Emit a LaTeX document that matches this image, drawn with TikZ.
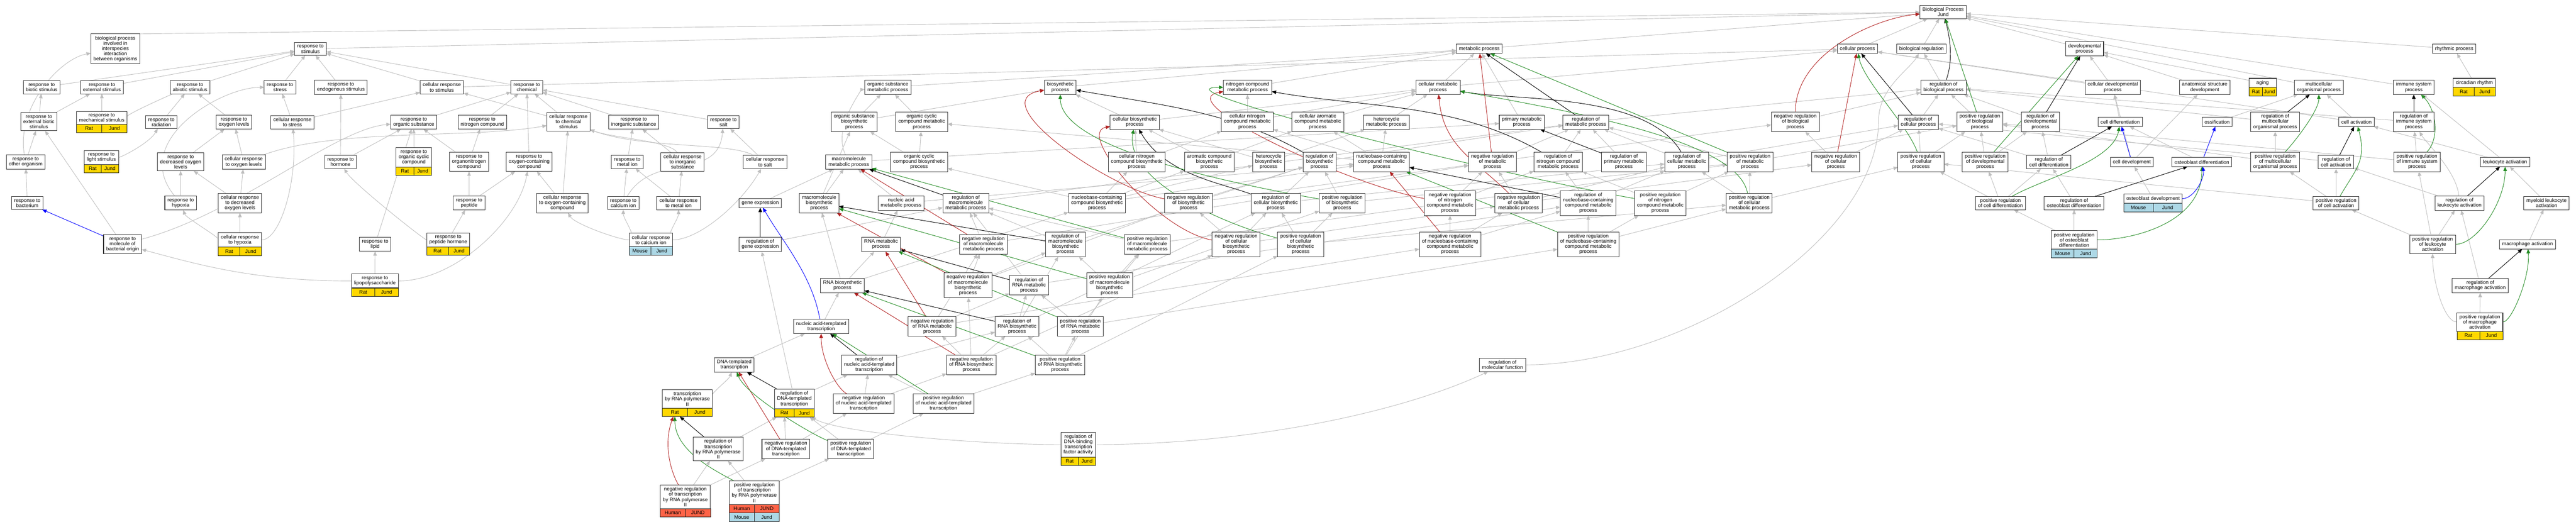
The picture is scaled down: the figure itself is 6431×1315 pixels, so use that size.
\documentclass[tikz,border=0pt]{standalone}
\usepackage{fontspec}
\setmainfont{Liberation Sans}
\usetikzlibrary{arrows.meta, calc, backgrounds}

\definecolor{ratgold}{HTML}{FFD700}
\definecolor{mouseblue}{HTML}{ADD8E6}
\definecolor{humanred}{HTML}{FF6347}
\definecolor{negred}{HTML}{B22222}
\definecolor{posgreen}{HTML}{228B22}
\definecolor{isagray}{HTML}{BEBEBE}

\newcommand{\gofont}{\fontsize{12.6}{13}\selectfont}
% species row under a term: node, row, colour, left, right
\newcommand{\tagrow}[5]{%
  \path let \p1 = (#1.south west), \p2 = (#1.south east) in
    node[tagcell, fill=#3, minimum width={(\x2-\x1)/2}, anchor=north west]
      (#1-#2l) at ($(\p1)+(0,21-21*#2)$) {#4};
  \path let \p1 = (#1.south west), \p2 = (#1.south east) in
    node[tagcell, fill=#3, minimum width={(\x2-\x1)/2}, anchor=north east]
      (#1-#2r) at ($(\p2)+(0,21-21*#2)$) {#5};
}

\begin{document}
\begin{tikzpicture}[x=1pt, y=1pt,
  every node/.style = {font=\gofont},
  term/.style = {shape=rectangle, draw=black!80, line width=1.3pt, fill=white,
    align=center, inner xsep=6.5pt, inner ysep=5.5pt, minimum height=23pt, outer sep=0pt},
  tagcell/.style = {shape=rectangle, draw=black!85, line width=1pt, inner sep=0pt,
    minimum height=21pt, outer sep=0pt},
  isa/.style = {draw=isagray, line width=1.2pt, -{Triangle[length=11pt,width=9pt]}},
  reg/.style = {isa, draw=black},
  negreg/.style = {isa, draw=negred},
  posreg/.style = {isa, draw=posgreen},
  partof/.style = {isa, draw=blue}]
\useasboundingbox (0,0) rectangle (6431,-1315);

% top
\node[term] (root) at (4851,-30) {Biological Process\\Jund};
\node[term] (bpint) at (288,-122) {biological process\\involved in\\interspecies\\interaction\\between organisms};
\node[term] (rstim) at (775,-122) {response to\\stimulus};
\node[term] (met) at (3693,-122) {metabolic process};
\node[term] (cp) at (4637,-122) {cellular process};
\node[term] (breg) at (4797,-122) {biological regulation};
\node[term] (dev) at (5204,-122) {developmental\\process};
\node[term] (rhythm) at (6127,-122) {rhythmic process};

\node[term] (rbiotic) at (104,-218) {response to\\biotic stimulus};
\node[term] (rext) at (254.5,-218) {response to\\external stimulus};
\node[term] (rabiotic) at (474.5,-218) {response to\\abiotic stimulus};
\node[term] (rstress) at (699,-218) {response to\\stress};
\node[term] (rendo) at (851,-218) {response to\\endogenous stimulus};
\node[term] (crstim) at (1103,-218) {cellular response\\to stimulus};
\node[term] (rchem) at (1315,-218) {response to\\chemical};
\node[term] (osmet) at (2216.5,-218) {organic substance\\metabolic process};
\node[term] (bio) at (2647,-218) {biosynthetic\\process};
\node[term] (ncm) at (3114.5,-218) {nitrogen compound\\metabolic process};
\node[term] (cmet) at (3590,-218) {cellular metabolic\\process};
\node[term] (regbp) at (4852,-218) {regulation of\\biological process};
\node[term] (cdev) at (5274.5,-218) {cellular developmental\\process};
\node[term] (anatdev) at (5504,-218) {anatomical structure\\development};
\node[term, minimum width=68pt] (aging) at (5648.5,-207) {aging};
\node[term] (multi) at (5789,-218) {multicellular\\organismal process};
\node[term] (immune) at (6026,-218) {immune system\\process};
\node[term] (circ) at (6177,-207) {circadian rhythm};

\node[term] (rextbio) at (97,-304) {response to\\external biotic\\stimulus};
\node[term] (rmech) at (254,-294) {response to\\mechanical stimulus};
\node[term] (rrad) at (403,-305) {response to\\radiation};
\node[term] (roxy) at (584,-305) {response to\\oxygen levels};
\node[term] (crstress) at (730,-305) {cellular response\\to stress};
\node[term] (rorg) at (1033,-305) {response to\\organic substance};
\node[term] (rnitro) at (1204,-305) {response to\\nitrogen compound};
\node[term] (crchem) at (1419,-304) {cellular response\\to chemical\\stimulus};
\node[term] (rinorg) at (1582,-305) {response to\\inorganic substance};
\node[term] (rsalt) at (1806,-305) {response to\\salt};
\node[term] (osbio) at (2132.5,-304) {organic substance\\biosynthetic\\process};
\node[term] (occmet) at (2301,-304) {organic cyclic\\compound metabolic\\process};
\node[term] (cbio) at (2833,-305) {cellular biosynthetic\\process};
\node[term] (cncm) at (3114,-304) {cellular nitrogen\\compound metabolic\\process};
\node[term] (camet) at (3290,-304) {cellular aromatic\\compound metabolic\\process};
\node[term] (hetmet) at (3461,-305) {heterocycle\\metabolic process};
\node[term] (pmet) at (3799,-305) {primary metabolic\\process};
\node[term] (regmet) at (3959,-305) {regulation of\\metabolic process};
\node[term] (negbp) at (4482,-304) {negative regulation\\of biological\\process};
\node[term] (regcp) at (4789,-305) {regulation of\\cellular process};
\node[term] (posbp) at (4942.5,-304) {positive regulation\\of biological\\process};
\node[term] (regdev) at (5094,-304) {regulation of\\developmental\\process};
\node[term] (celldiff) at (5293,-304.5) {cell differentiation};
\node[term] (ossif) at (5535,-304.5) {ossification};
\node[term] (regmulti) at (5680,-304) {regulation of\\multicellular\\organismal process};
\node[term] (cellact) at (5883,-304.5) {cell activation};
\node[term] (regimmune) at (6026,-304) {regulation of\\immune system\\process};

\node[term] (rother) at (64,-404.5) {response to\\other organism};
\node[term] (rlight) at (253,-393) {response to\\light stimulus};
\node[term] (rdecoxy) at (451,-404) {response to\\decreased oxygen\\levels};
\node[term] (croxy) at (608.5,-404.5) {cellular response\\to oxygen levels};
\node[term] (rhorm) at (850,-404.5) {response to\\hormone};
\node[term] (rocc) at (1033,-393) {response to\\organic cyclic\\compound};
\node[term] (rorgnitro) at (1171,-404) {response to\\organonitrogen\\compound};
\node[term] (roxycomp) at (1321,-404) {response to\\oxygen-containing\\compound};
\node[term] (rmetal) at (1566,-404.5) {response to\\metal ion};
\node[term] (crinorg) at (1704,-404) {cellular response\\to inorganic\\substance};
\node[term] (crsalt) at (1910,-404.5) {cellular response\\to salt};
\node[term] (macmet) at (2119,-404.5) {macromolecule\\metabolic process};
\node[term] (occbio) at (2294.5,-404) {organic cyclic\\compound biosynthetic\\process};
\node[term] (cncbio) at (2838,-404) {cellular nitrogen\\compound biosynthetic\\process};
\node[term] (arobio) at (3019,-404) {aromatic compound\\biosynthetic\\process};
\node[term] (hetbio) at (3167,-404) {heterocycle\\biosynthetic\\process};
\node[term] (regbio) at (3294,-404) {regulation of\\biosynthetic\\process};
\node[term] (ncmet) at (3449,-404) {nucleobase-containing\\compound metabolic\\process};
\node[term] (negmet) at (3726,-404) {negative regulation\\of metabolic\\process};
\node[term] (regncm) at (3890,-404) {regulation of\\nitrogen compound\\metabolic process};
\node[term] (regpmet) at (4054,-404) {regulation of\\primary metabolic\\process};
\node[term] (regcmet) at (4211,-404) {regulation of\\cellular metabolic\\process};
\node[term] (posmet) at (4369,-404) {positive regulation\\of metabolic\\process};
\node[term] (negcp) at (4583,-404) {negative regulation\\of cellular\\process};
\node[term] (poscp) at (4795.5,-404) {positive regulation\\of cellular\\process};
\node[term] (posdev) at (4956,-404) {positive regulation\\of developmental\\process};
\node[term] (regcelldiff) at (5115,-404.5) {regulation of\\cell differentiation};
\node[term] (celldev) at (5322,-404.5) {cell development};
\node[term] (osteo) at (5497,-404.5) {osteoblast differentiation};
\node[term] (posmulti) at (5680,-404) {positive regulation\\of multicellular\\organismal process};
\node[term] (regcellact) at (5832,-404.5) {regulation of\\cell activation};
\node[term] (posimmune) at (6034,-404) {positive regulation\\of immune system\\process};
\node[term] (leukact) at (6254,-404.5) {leukocyte activation};

\node[term] (rbact) at (68,-507) {response to\\bacterium};
\node[term] (rhypox) at (451,-507) {response to\\hypoxia};
\node[term] (crdecoxy) at (599,-507) {cellular response\\to decreased\\oxygen levels};
\node[term] (rpeptide) at (1171,-507) {response to\\peptide};
\node[term] (croxycomp) at (1404,-507) {cellular response\\to oxygen-containing\\compound};
\node[term] (rcalcium) at (1556,-507) {response to\\calcium ion};
\node[term] (crmetal) at (1694,-507) {cellular response\\to metal ion};
\node[term] (geneexp) at (1898,-507) {gene expression};
\node[term] (macbio) at (2045,-507) {macromolecule\\biosynthetic\\process};
\node[term] (namet) at (2249.5,-507) {nucleic acid\\metabolic process};
\node[term] (regmacmet) at (2411,-507) {regulation of\\macromolecule\\metabolic process};
\node[term] (nbbio) at (2738.5,-507) {nucleobase-containing\\compound biosynthetic\\process};
\node[term] (negbio) at (2967,-507) {negative regulation\\of biosynthetic\\process};
\node[term] (regcbio) at (3185,-507) {regulation of\\cellular biosynthetic\\process};
\node[term] (posbio) at (3351,-507) {positive regulation\\of biosynthetic\\process};
\node[term] (negncm) at (3620,-507) {negative regulation\\of nitrogen\\compound metabolic\\process};
\node[term] (negcmet) at (3791,-507) {negative regulation\\of cellular\\metabolic process};
\node[term] (regncmet) at (3965,-507) {regulation of\\nucleobase-containing\\compound metabolic\\process};
\node[term] (posncm) at (4145,-507) {positive regulation\\of nitrogen\\compound metabolic\\process};
\node[term] (poscmet) at (4367,-507) {positive regulation\\of cellular\\metabolic process};
\node[term] (posceldiff) at (4994,-507) {positive regulation\\of cell differentiation};
\node[term] (regosteo) at (5178,-507) {regulation of\\osteoblast differentiation};
\node[term] (osteodev) at (5375,-496) {osteoblast development};
\node[term] (poscellact) at (5832,-507) {positive regulation\\of cell activation};
\node[term] (regleuk) at (6140,-507) {regulation of\\leukocyte activation};
\node[term] (myeloid) at (6357.5,-507) {myeloid leukocyte\\activation};

\node[term] (rmbo) at (306,-610) {response to\\molecule of\\bacterial origin};
\node[term] (crhypox) at (599,-599) {cellular response\\to hypoxia};
\node[term] (rlipid) at (936.5,-610) {response to\\lipid};
\node[term] (rpephorm) at (1119,-599) {response to\\peptide hormone};
\node[term] (crcalcium) at (1625,-599) {cellular response\\to calcium ion};
\node[term] (reggene) at (1898,-610) {regulation of\\gene expression};
\node[term] (rnamet) at (2199.5,-610) {RNA metabolic\\process};
\node[term] (negmacmet) at (2455,-610) {negative regulation\\of macromolecule\\metabolic process};
\node[term] (regmacbio) at (2660,-610) {regulation of\\macromolecule\\biosynthetic\\process};
\node[term] (posmacmet) at (2864,-610) {positive regulation\\of macromolecule\\metabolic process};
\node[term] (negcbio) at (3086,-610) {negative regulation\\of cellular\\biosynthetic\\process};
\node[term] (poscbio) at (3247,-610) {positive regulation\\of cellular\\biosynthetic\\process};
\node[term] (negncmet) at (3620,-610) {negative regulation\\of nucleobase-containing\\compound metabolic\\process};
\node[term] (posncmet) at (3965,-610) {positive regulation\\of nucleobase-containing\\compound metabolic\\process};
\node[term] (posostdiff) at (5178,-599) {positive regulation\\of osteoblast\\differentiation};
\node[term] (posleuk) at (6073,-610) {positive regulation\\of leukocyte\\activation};
\node[term] (macroact) at (6310,-610) {macrophage activation};

\node[term] (rlps) at (936,-701.5) {response to\\lipopolysaccharide};
\node[term] (rnabio) at (2103,-713) {RNA biosynthetic\\process};
\node[term] (negmacbio) at (2416.5,-712) {negative regulation\\of macromolecule\\biosynthetic\\process};
\node[term] (regrnamet) at (2569,-712) {regulation of\\RNA metabolic\\process};
\node[term] (posmacbio) at (2770,-712) {positive regulation\\of macromolecule\\biosynthetic\\process};
\node[term] (regmacro) at (6192,-713) {regulation of\\macrophage activation};
\node[term] (natt) at (2050,-815) {nucleic acid-templated\\transcription};
\node[term] (negrnamet) at (2327,-815) {negative regulation\\of RNA metabolic\\process};
\node[term] (regrnabio) at (2539,-815) {regulation of\\RNA biosynthetic\\process};
\node[term] (posrnamet) at (2697,-815) {positive regulation\\of RNA metabolic\\process};
\node[term] (posmacro) at (6191,-804) {positive regulation\\of macrophage\\activation};
\node[term] (dnatt) at (1833,-911) {DNA-templated\\transcription};
\node[term] (regnatt) at (2170,-911) {regulation of\\nucleic acid-templated\\transcription};
\node[term] (negrnabio) at (2425,-911) {negative regulation\\of RNA biosynthetic\\process};
\node[term] (posrnabio) at (2646.5,-911) {positive regulation\\of RNA biosynthetic\\process};
\node[term] (regmf) at (3751,-911) {regulation of\\molecular function};
\node[term] (txpol2) at (1716,-996) {transcription\\by RNA polymerase\\II};
\node[term] (regdnatt) at (1983,-996) {regulation of\\DNA-templated\\transcription};
\node[term] (negnatt) at (2156,-1007.5) {negative regulation\\of nucleic acid-templated\\transcription};
\node[term] (posnatt) at (2355.5,-1007.5) {positive regulation\\of nucleic acid-templated\\transcription};
\node[term] (regdbtf) at (2692,-1110) {regulation of\\DNA-binding\\transcription\\factor activity};
\node[term] (regtxpol2) at (1793,-1121) {regulation of\\transcription\\by RNA polymerase\\II};
\node[term] (negdnatt) at (1962,-1121) {negative regulation\\of DNA-templated\\transcription};
\node[term] (posdnatt) at (2124,-1121) {positive regulation\\of DNA-templated\\transcription};
\node[term] (negtxpol2) at (1711,-1240.5) {negative regulation\\of transcription\\by RNA polymerase\\II};
\node[term] (postxpol2) at (1883,-1230) {positive regulation\\of transcription\\by RNA polymerase\\II};
\coordinate (mfvia) at (4690,-300);

% species rows
\tagrow{rmech}{1}{ratgold}{Rat}{Jund}
\tagrow{rlight}{1}{ratgold}{Rat}{Jund}
\tagrow{rocc}{1}{ratgold}{Rat}{Jund}
\tagrow{crhypox}{1}{ratgold}{Rat}{Jund}
\tagrow{rpephorm}{1}{ratgold}{Rat}{Jund}
\tagrow{rlps}{1}{ratgold}{Rat}{Jund}
\tagrow{crcalcium}{1}{mouseblue}{Mouse}{Jund}
\tagrow{txpol2}{1}{ratgold}{Rat}{Jund}
\tagrow{regdnatt}{1}{ratgold}{Rat}{Jund}
\tagrow{regdbtf}{1}{ratgold}{Rat}{Jund}
\tagrow{negtxpol2}{1}{humanred}{Human}{JUND}
\tagrow{postxpol2}{1}{humanred}{Human}{JUND}
\tagrow{postxpol2}{2}{mouseblue}{Mouse}{Jund}
\tagrow{aging}{1}{ratgold}{Rat}{Jund}
\tagrow{circ}{1}{ratgold}{Rat}{Jund}
\tagrow{osteodev}{1}{mouseblue}{Mouse}{Jund}
\tagrow{posostdiff}{1}{mouseblue}{Mouse}{Jund}
\tagrow{posmacro}{1}{ratgold}{Rat}{Jund}

\begin{scope}[on background layer]
% is_a
\foreach \src/\dst in {rbiotic/rstim, rext/rstim, rabiotic/rstim, rstress/rstim, rendo/rstim,
  crstim/rstim, rchem/rstim, rextbio/rbiotic, rextbio/rext, rmech/rext, rrad/rabiotic,
  roxy/rabiotic, crstress/rstress, crstress/crstim, rorg/rchem, rother/rextbio, rdecoxy/roxy,
  croxy/roxy, rhorm/rendo, rhorm/rorg, rocc/rorg, rbact/rother, rhypox/rdecoxy,
  crdecoxy/rdecoxy, crdecoxy/croxy, rmbo/rextbio, crhypox/crdecoxy, rlipid/rorg,
  rpephorm/rpeptide, rlps/rlipid, rnitro/rchem, crchem/rchem, crchem/crstim, rinorg/rchem,
  rsalt/rchem, rorgnitro/rnitro, rorgnitro/rorg, roxycomp/rchem, rmetal/rinorg,
  crinorg/rinorg, crsalt/rsalt, rpeptide/rorgnitro, rpeptide/roxycomp, croxycomp/roxycomp,
  croxycomp/crchem, rcalcium/rmetal, crmetal/rmetal, crmetal/crinorg, rstim/root, crstim/cp}
  \draw[isa] (\src) -- (\dst);
\foreach \src/\dst in {geneexp/macmet, macbio/macmet, macbio/osbio, osbio/osmet, osbio/bio,
  osmet/met, bio/met, ncm/met, cmet/met, pmet/met, macmet/pmet, occmet/osmet, cbio/bio, cbio/cmet,
  cncm/ncm, cncm/cmet, occbio/occmet, occbio/osbio, cncbio/cbio, cncbio/cncm, arobio/cbio,
  arobio/camet, hetbio/cbio, hetbio/hetmet, camet/cmet, hetmet/cmet, ncmet/camet,
  ncmet/hetmet, ncmet/occmet, ncmet/cncm, namet/macmet, namet/ncmet, nbbio/occbio,
  nbbio/cncbio, nbbio/arobio, nbbio/hetbio, nbbio/ncmet, rnamet/namet, rnabio/macbio,
  rnabio/rnamet, rnabio/nbbio, natt/rnabio, dnatt/natt, reggene/regmacmet}
  \draw[isa] (\src) -- (\dst);
\foreach \src/\dst in {regmacmet/regmet, negmacmet/regmacmet, negmacmet/negmet,
  posmacmet/regmacmet, posmacmet/posmet, regmacbio/regmacmet, regmacbio/regbio,
  negmacbio/regmacbio, negmacbio/negmacmet, negmacbio/negbio, posmacbio/regmacbio,
  posmacbio/posmacmet, posmacbio/posbio, regbio/regmet, negbio/regbio, negbio/negmet,
  posbio/regbio, posbio/posmet, regcbio/regbio, regcbio/regcmet, negcbio/regcbio,
  negcbio/negbio, negcbio/negcmet, poscbio/regcbio, poscbio/posbio, poscbio/poscmet,
  regncm/regmet, negncm/regncm, negncm/negmet, posncm/regncm, posncm/posmet, regpmet/regmet,
  regcmet/regmet, regcmet/regcp, negcmet/regcmet, negcmet/negmet, negcmet/negcp,
  poscmet/regcmet, poscmet/posmet, poscmet/poscp, regmet/regbp, negmet/regmet, negmet/negbp,
  posmet/regmet, posmet/posbp, regncmet/regncm, regncmet/regcmet, negncmet/regncmet,
  negncmet/negncm, negncmet/negcmet, posncmet/regncmet, posncmet/posncm, posncmet/poscmet,
  regrnamet/regncmet, regrnamet/regmacmet, negrnamet/regrnamet, negrnamet/negncmet,
  negrnamet/negmacmet, posrnamet/regrnamet, posrnamet/posncmet, posrnamet/posmacmet,
  regrnabio/regrnamet, regrnabio/regmacbio, regrnabio/regcbio, negrnabio/negrnamet,
  negrnabio/regrnabio, negrnabio/negmacbio, negrnabio/negcbio, posrnabio/posrnamet,
  posrnabio/regrnabio, posrnabio/posmacbio, posrnabio/poscbio, regnatt/regrnabio,
  negnatt/regnatt, negnatt/negrnabio, posnatt/regnatt, posnatt/posrnabio, regdnatt/regnatt,
  regdnatt/reggene, negdnatt/negnatt, posdnatt/posnatt, negtxpol2/regtxpol2,
  postxpol2/regtxpol2, negdnatt/regdnatt-1l, posdnatt/regdnatt-1r, regtxpol2/regdnatt-1l,
  negtxpol2/negdnatt, postxpol2/posdnatt}
  \draw[isa] (\src) -- (\dst);
\foreach \src/\dst in {met/root, cp/root, breg/root, dev/root, rhythm/root, multi/root,
  immune/root, regbp/breg, negbp/regbp, posbp/regbp, regcp/regbp, negcp/regcp, negcp/negbp,
  poscp/regcp, poscp/posbp, cmet/cp, cdev/dev, cdev/cp, regdev/regbp, posdev/regdev,
  posdev/posbp, celldiff/cdev, regcelldiff/regdev, regcelldiff/regcp, posceldiff/regcelldiff,
  posceldiff/posdev, posceldiff/poscp, celldev/cdev, celldev/anatdev, anatdev/dev, aging/dev,
  osteo/celldiff, osteodev/celldev, regosteo/regcelldiff, posostdiff/regosteo,
  posostdiff/posceldiff, ossif/multi, circ/rhythm, regmulti/regbp, posmulti/regmulti,
  posmulti/posbp, cellact/cp, cellact/multi, regimmune/regbp, posimmune/regimmune,
  posimmune/posbp, regcellact/regcp, poscellact/regcellact, poscellact/poscp,
  poscellact/posmulti, leukact/cellact, leukact/immune, regleuk/regcellact, posleuk/regleuk,
  posleuk/poscellact, posleuk/posimmune, myeloid/leukact, macroact/myeloid, regmacro/regleuk,
  posmacro/regmacro}
  \draw[isa] (\src) -- (\dst);
\draw[isa] (bpint.north east) -- (root);
\draw[isa] (rother) .. controls +(100:140) and +(190:140) .. (bpint);
\draw[isa] (rmech) .. controls +(0:40) and +(200:40) .. (rabiotic);
\draw[isa] (rlight) .. controls +(0:50) and +(-120:60) .. (rrad);
\draw[isa] (rhypox) .. controls +(130:200) and +(180:150) .. (rstress);
\draw[isa] (crhypox) .. controls +(180:40) and +(-70:40) .. (rhypox);
\draw[isa] (crhypox) .. controls +(0:100) and +(-85:150) .. (crstress);
\draw[isa] (croxy) .. controls +(20:250) and +(190:250) .. (crchem);
\draw[isa] (rmbo) .. controls +(15:300) and +(185:200) .. (rorg);
\draw[isa] (rlps) .. controls +(180:300) and +(-15:200) .. (rmbo);
\draw[isa] (rlps) .. controls +(0:200) and +(-100:150) .. (roxycomp);
\draw[isa] (rpephorm) .. controls +(180:60) and +(-60:60) .. (rhorm);
\draw[isa] (crinorg) .. controls +(120:60) and +(-20:120) .. (crchem);
\draw[isa] (crsalt) .. controls +(150:100) and +(-20:200) .. (crchem);
\draw[isa] (rcalcium) .. controls +(60:150) and +(-95:150) .. (rsalt);
\draw[isa] (crcalcium) .. controls +(180:80) and +(-60:60) .. (croxycomp);
\draw[isa] (crcalcium) .. controls +(180:30) and +(-90:40) .. (rcalcium);
\draw[isa] (crcalcium) .. controls +(0:30) and +(-90:40) .. (crmetal);
\draw[isa] (crcalcium) .. controls +(0:120) and +(-120:120) .. (crsalt);
\draw[isa] (macmet) .. controls +(115:100) and +(185:60) .. (osmet);
\draw[isa] (txpol2) .. controls +(0:40) and +(-110:40) .. (dnatt);
\draw[isa] (regdbtf) .. controls +(0:400) and +(-155:300) .. (regmf);
\draw[isa] (regdbtf) .. controls +(180:250) and +(-30:100) .. (regdnatt-1r);
\draw[isa] (regmf) .. controls +(0:450) and +(-90:300) .. (mfvia) .. controls +(90:80) and +(-120:60) .. (breg);
\draw[isa] (regleuk) .. controls +(95:80) and +(-60:60) .. (regimmune);
\draw[isa] (posmacro) .. controls +(180:90) and +(-90:90) .. (posleuk);

% regulates
\foreach \src/\dst in {reggene/geneexp, regmacmet/macmet, regmacbio/macbio, regrnamet/rnamet,
  regrnabio/rnabio, regnatt/natt, regdnatt/dnatt, regtxpol2/txpol2-1l, regpmet/pmet,
  regmet/met, regcp/cp, regdev/dev, regcelldiff/celldiff, regosteo/osteo, regmulti/multi,
  regimmune/immune, regcellact/cellact, regleuk/leukact, regmacro/macroact, regncmet/ncmet}
  \draw[reg] (\src) -- (\dst);
\draw[reg] (regbp) .. controls +(70:70) and +(-75:70) .. (root);
\draw[reg] (regcmet) .. controls +(120:200) and +(-10:200) .. (cmet);
\draw[reg] (regncm) .. controls +(150:300) and +(-10:300) .. (ncm);
\draw[reg] (regbio) .. controls +(150:250) and +(-10:250) .. (bio);
\draw[reg] (regcbio) .. controls +(160:150) and +(-60:150) .. (cbio);

% negatively regulates
\foreach \src/\dst in {negmacmet/macmet, negmacbio/macbio, negrnamet/rnamet, negrnabio/rnabio,
  negdnatt/dnatt, negmet/met, negcp/cp, negncmet/ncmet}
  \draw[negreg] (\src) -- (\dst);
\draw[negreg] (negbp) .. controls +(90:170) and +(185:170) .. (root);
\draw[negreg] (negcmet) .. controls +(135:150) and +(-85:150) .. (cmet);
\draw[negreg] (negncm) .. controls +(170:250) and +(190:200) .. (ncm);
\draw[negreg] (negbio) .. controls +(170:200) and +(190:200) .. (bio);
\draw[negreg] (negcbio) .. controls +(170:200) and +(190:150) .. (cbio);
\draw[negreg] (negnatt) .. controls +(150:80) and +(-90:80) .. (natt);
\draw[negreg] (negtxpol2) .. controls +(120:80) and +(-110:80) .. (txpol2-1l);

% positively regulates
\foreach \src/\dst in {posmacmet/macmet, posmacbio/macbio, posrnamet/rnamet, posrnabio/rnabio,
  posnatt/natt, posmet/met, posbp/root, posdev/dev, posncmet/ncmet}
  \draw[posreg] (\src) -- (\dst);
\draw[posreg] (poscp) .. controls +(110:100) and +(-80:80) .. (cp);
\draw[posreg] (poscmet) .. controls +(100:150) and +(-10:400) .. (cmet);
\draw[posreg] (posncm) .. controls +(170:420) and +(180:250) .. (ncm);
\draw[posreg] (posbio) .. controls +(170:300) and +(-90:150) .. (bio);
\draw[posreg] (poscbio) .. controls +(165:200) and +(-100:150) .. (cbio);
\draw[posreg] (posdnatt) .. controls +(160:100) and +(-70:80) .. (dnatt);
\draw[posreg] (postxpol2) .. controls +(150:100) and +(-90:100) .. (txpol2-1l);
\draw[posreg] (posceldiff) .. controls +(30:120) and +(-100:100) .. (celldiff);
\draw[posreg] (posostdiff) .. controls +(0:150) and +(-90:150) .. (osteo);
\draw[posreg] (posmulti) .. controls +(45:60) and +(-90:60) .. (multi);
\draw[posreg] (poscellact) .. controls +(60:100) and +(-75:100) .. (cellact);
\draw[posreg] (posimmune) .. controls +(45:80) and +(-45:80) .. (immune);
\draw[posreg] (posleuk) .. controls +(0:110) and +(-90:100) .. (leukact);
\draw[posreg] (posmacro) .. controls +(0:80) and +(-85:80) .. (macroact);

% part of
\foreach \src/\dst in {rmbo/rbact, celldev/celldiff, osteo/ossif}
  \draw[partof] (\src) -- (\dst);
\draw[partof] (natt) .. controls +(100:130) and +(-60:110) .. (geneexp);
\draw[partof] (osteodev.east) .. controls +(0:30) and +(-80:40) .. (osteo);
\end{scope}
\end{tikzpicture}
\end{document}
